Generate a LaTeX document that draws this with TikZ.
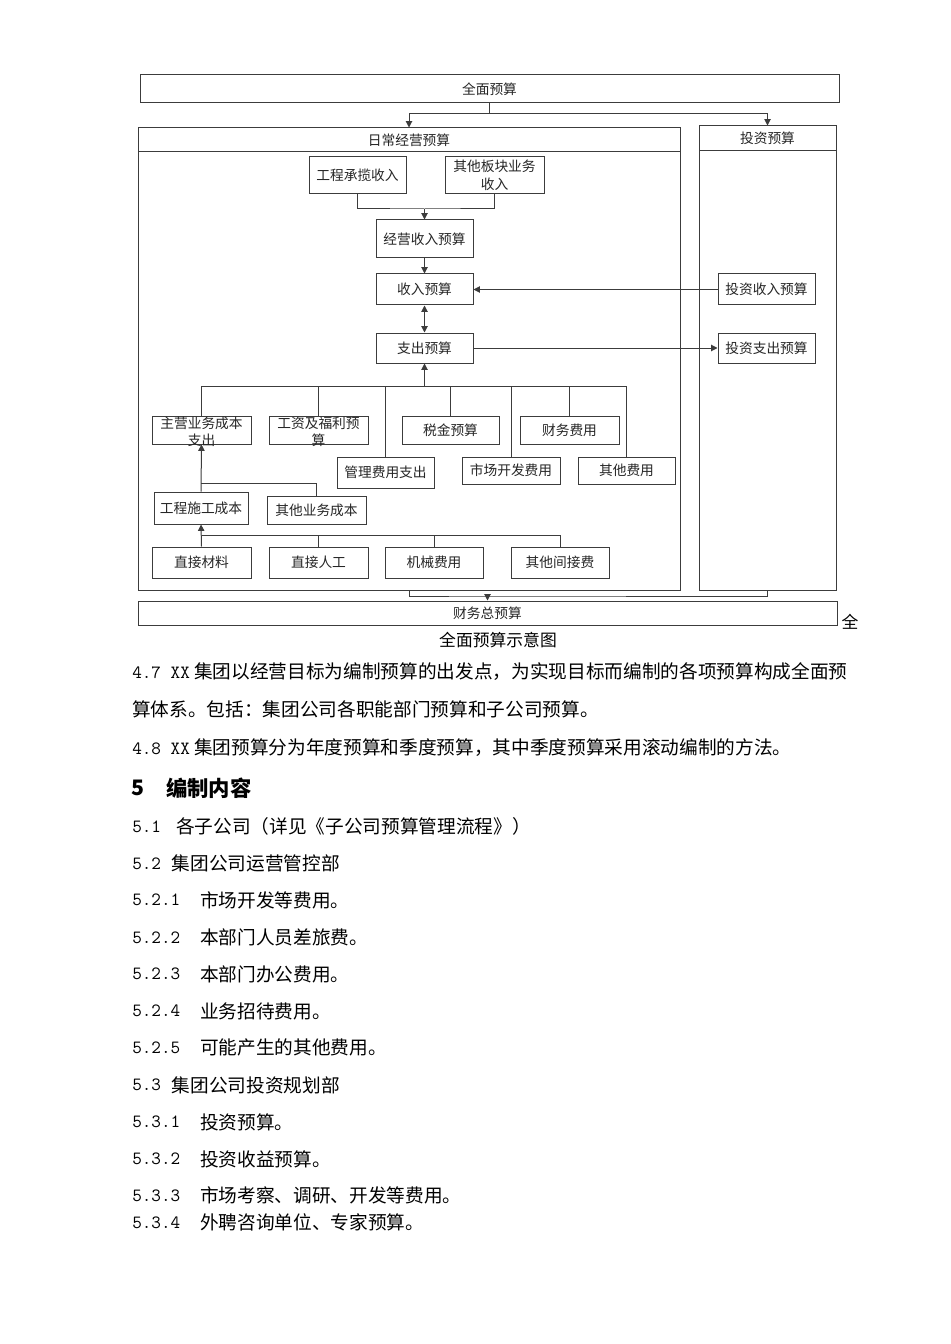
\documentclass[tikz,border=0pt]{standalone}
\usepackage{fontspec}
\usetikzlibrary{arrows.meta,fit}
\newfontfamily\cjk{Noto Sans CJK SC}
\XeTeXlinebreaklocale "zh"
\XeTeXlinebreakskip=0pt plus 2pt
\definecolor{ln}{HTML}{3C3C3C}
\begin{document}
\begin{tikzpicture}[x=0.75pt,y=-0.75pt,
  box/.style={draw=ln, line width=0.75pt, inner sep=0pt, rectangle},
  lbl/.style={font=\cjk\fontsize{10.3}{13.3}\selectfont, text=black!85, inner sep=0pt, align=center},
  conn/.style={draw=ln, line width=0.75pt},
  arr/.style={conn, -{Triangle[length=4.8pt,width=4.8pt]}},
  darr/.style={conn, {Triangle[length=4.8pt,width=4.8pt]}-{Triangle[length=4.8pt,width=4.8pt]}},
  bt/.style={anchor=west, inner sep=0pt, font=\cjk\fontsize{14}{18}\selectfont},
  bn/.style={anchor=west, inner sep=0pt, font=\ttfamily\fontsize{14}{18}\selectfont},
]
\fill[white] (0,0) rectangle (950,1344);
\useasboundingbox (0,0) rectangle (950,1344);

% ---------- diagram boxes ----------
\node[box, fit={(140,75) (839,103)}, label={[lbl]center:全面预算}] (top) {};
\node[box, fit={(138,128) (680,590)}] (ops) {};
\node[box, fit={(138,128) (680,152)}, label={[lbl]center:日常经营预算}] (opst) {};
\node[box, fit={(699,126) (836,590)}] (inv) {};
\node[box, fit={(699,126) (836,151)}, label={[lbl]center:投资预算}] (invt) {};

\node[box, fit={(309,157) (406,194)}, label={[lbl]center:工程承揽收入}] (gc) {};
\node[box, fit={(445,157) (544,194)}, label={[lbl]center:{其他板块业务\\收入}}] (qt) {};
\node[box, fit={(376,220) (473,258)}, label={[lbl]center:经营收入预算}] (jy) {};
\node[box, fit={(376,274) (473,305)}, label={[lbl]center:收入预算}] (sr) {};
\node[box, fit={(376,333) (473,363)}, label={[lbl]center:支出预算}] (zc) {};
\node[box, fit={(718,274) (815,305)}, label={[lbl]center:投资收入预算}] (tsr) {};
\node[box, fit={(718,333) (815,363)}, label={[lbl]center:投资支出预算}] (tzc) {};

\node[box, fit={(152,416) (251,444)}, label={[lbl, yshift=-1.4pt]center:{主营业务成本\\支出}}] (zy) {};
\node[box, fit={(269,416) (368,444)}, label={[lbl, yshift=-1.4pt]center:{工资及福利预\\算}}] (gz) {};
\node[box, fit={(402,416) (499,444)}, label={[lbl]center:税金预算}] (sj) {};
\node[box, fit={(520,416) (619,444)}, label={[lbl]center:财务费用}] (cw) {};
\node[box, fit={(337,457) (434,488)}, label={[lbl]center:管理费用支出}] (gl) {};
\node[box, fit={(462,457) (560,484)}, label={[lbl]center:市场开发费用}] (sc) {};
\node[box, fit={(578,457) (675,484)}, label={[lbl]center:其他费用}] (qf) {};

\node[box, fit={(154,492) (248,524)}, label={[lbl]center:工程施工成本}] (sg) {};
\node[box, fit={(267,496) (366,524)}, label={[lbl]center:其他业务成本}] (qy) {};

\node[box, fit={(152,547) (251,578)}, label={[lbl]center:直接材料}] (cl) {};
\node[box, fit={(269,547) (368,578)}, label={[lbl]center:直接人工}] (rg) {};
\node[box, fit={(385,547) (483,578)}, label={[lbl]center:机械费用}] (jx) {};
\node[box, fit={(511,547) (609,578)}, label={[lbl]center:其他间接费}] (jj) {};

\node[box, fit={(138,601) (837,625)}, label={[lbl]center:财务总预算}] (total) {};

% ---------- connectors ----------
\coordinate (b1) at (489.5,114);
\draw[conn] (top.south) -- (b1);
\draw[arr] (b1) -| (opst.north);
\draw[arr] (b1) -| (invt.north);

\coordinate (m1) at (424.5,209);
\draw[conn] (gc.south) |- (m1) -| (qt.south);
\draw[arr] (m1) -- (jy.north);
\draw[arr] (jy.south) -- (sr.north);
\draw[darr] (sr.south) -- (zc.north);
\draw[arr] (tsr.west) -- (sr.east);
\draw[arr] (zc.east) -- (tzc.west);

\coordinate (bus) at (424.5,386);
\draw[arr] (bus) -- (zc.south);
\foreach \b in {zy,gz,gl,sj,sc,cw,qf} \draw[conn] (bus) -| (\b.north);

\coordinate (m2) at (201,483);
\draw[arr] (sg.north) -- (zy.south);
\draw[conn] (m2) -| (qy.north);

\coordinate (m3) at (201.5,535);
\draw[arr] (cl.north) -- (sg.south);
\foreach \b in {rg,jx,jj} \draw[conn] (m3) -| (\b.north);

\coordinate (m4) at (487.5,596);
\draw[conn] (ops.south) |- (m4) -| (inv.south);
\draw[arr] (m4) -- (total.north);

\node[inner sep=0pt, font=\cjk\fontsize{12.6}{14}\selectfont] (stray) at (850,622) {全};
\node[inner sep=0pt, font=\cjk\fontsize{12.6}{14}\selectfont] (cap) at (498,640) {全面预算示意图};

% ---------- body text ----------
\node[bt, text width=548pt, align=justify] (p47a) at (132,671.7) {\parfillskip=0pt {\ttfamily 4.7 XX} 集团以经营目标为编制预算的出发点，为实现目标而编制的各项预算构成全面预};
\node[bt] (p47b) at (132,709.3) {算体系。包括：集团公司各职能部门预算和子公司预算。};
\node[bt] (p48) at (132,747.7) {{\ttfamily 4.8 XX} 集团预算分为年度预算和季度预算，其中季度预算采用滚动编制的方法。};

\node[anchor=west, inner sep=0pt, font=\cjk\bfseries\fontsize{16}{18}\selectfont] (h5n) at (131,788.3) {5};
\node[anchor=west, inner sep=0pt, font=\cjk\bfseries\fontsize{16}{18}\selectfont] (h5t) at (166,788.3) {编制内容};

\node[bn] (n51) at (132,826.7) {5.1};
\node[bt] (t51) at (176,826.7) {各子公司（详见《子公司预算管理流程》）};
\node[bn] (n52) at (132,863.3) {5.2};
\node[bt] (t52) at (171.7,863.3) {集团公司运营管控部};
\node[bn] (n521) at (132,900) {5.2.1};
\node[bt] (t521) at (200,900) {市场开发等费用。};
\node[bn] (n522) at (132,937.3) {5.2.2};
\node[bt] (t522) at (200,937.3) {本部门人员差旅费。};
\node[bn] (n523) at (132,974) {5.2.3};
\node[bt] (t523) at (200,974) {本部门办公费用。};
\node[bn] (n524) at (132,1011) {5.2.4};
\node[bt] (t524) at (200,1011) {业务招待费用。};
\node[bn] (n525) at (132,1047.7) {5.2.5};
\node[bt] (t525) at (200,1047.7) {可能产生的其他费用。};
\node[bn] (n53) at (132,1085) {5.3};
\node[bt] (t53) at (171.7,1085) {集团公司投资规划部};
\node[bn] (n531) at (132,1122) {5.3.1};
\node[bt] (t531) at (200,1122) {投资预算。};
\node[bn] (n532) at (132,1159) {5.3.2};
\node[bt] (t532) at (200,1159) {投资收益预算。};
\node[bn] (n533) at (132,1195.7) {5.3.3};
\node[bt] (t533) at (200,1195.7) {市场考察、调研、开发等费用。};
\node[bn] (n534) at (132,1222.7) {5.3.4};
\node[bt] (t534) at (200,1222.7) {外聘咨询单位、专家预算。};
\end{tikzpicture}
\end{document}
